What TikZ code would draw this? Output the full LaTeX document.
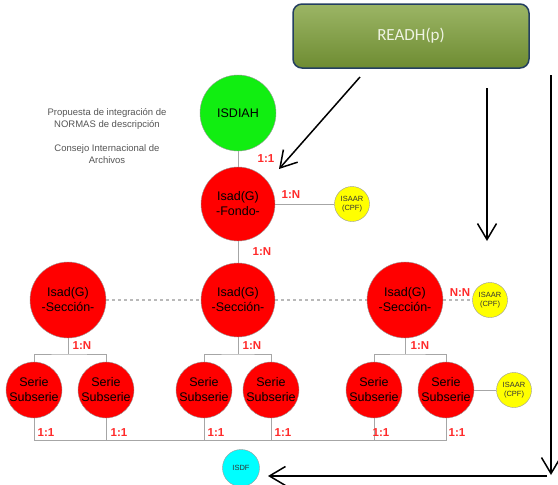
\documentclass[tikz,border=0pt]{standalone}
\usepackage{fontspec}
\setmainfont{Liberation Sans}
\newfontfamily\calibri{Carlito}
\usetikzlibrary{arrows.meta}
\definecolor{verdecaja}{HTML}{8AA84A}
\definecolor{verdeosc}{HTML}{6E8C32}
\definecolor{bordecaja}{HTML}{243F60}
\definecolor{textocaja}{HTML}{EEF3E2}
\definecolor{rojorel}{HTML}{FF2A2A}
\definecolor{grisnota}{HTML}{555555}
\definecolor{celeste}{HTML}{00FFFF}
\definecolor{amarillo}{HTML}{FFFF00}
\definecolor{verdeisd}{HTML}{11EE11}

\begin{document}
\begin{tikzpicture}[x=1pt,y=-1pt,
  nivel/.style={circle,draw=gray!80,fill=red,inner sep=0pt,minimum size=74pt,align=center,font=\fontsize{12.5}{15}\selectfont},
  serie/.style={circle,draw=gray!80,fill=red,inner sep=0pt,minimum size=56pt,align=center,font=\fontsize{12.5}{15}\selectfont},
  isaar/.style={circle,draw=gray!80,fill=amarillo,inner sep=0pt,minimum size=35pt,align=center,text=black!80,font=\fontsize{7.5}{9}\selectfont},
  rel/.style={text=rojorel,font=\bfseries\fontsize{11.5}{13}\selectfont},
  enlace/.style={draw=gray!70,line width=0.9pt},
  guion/.style={draw=gray!55,line width=1.1pt,dashed},
  flecha/.style={line width=1.5pt,-{Straight Barb[length=16pt,width=19pt]}}
]
\useasboundingbox (0,0) rectangle (558,485);

% caja superior
\node[draw=bordecaja,line width=1.5pt,rounded corners=9pt,top color=verdecaja!85!white,bottom color=verdeosc,
  minimum width=236pt,minimum height=64pt,text=textocaja,font=\calibri\fontsize{17}{20}\selectfont] (readh) at (411,36) {READH(p)};

% texto de la izquierda
\node[align=center,text=grisnota,font=\fontsize{9.5}{12}\selectfont] (nota) at (107,136)
  {Propuesta de integración de\\NORMAS de descripción\\[12pt]Consejo Internacional de\\Archivos};

% niveles
\node[nivel,fill=verdeisd,minimum size=76pt] (isdiah) at (238,113) {ISDIAH};
\node[nivel] (fondo) at (238,204) {Isad(G)\\-Fondo-};
\node[isaar] (isaarF) at (352,204) {ISAAR\\(CPF)};

\node[nivel,minimum size=76pt] (secA) at (68,300) {Isad(G)\\-Sección-};
\node[nivel] (secB) at (238,300) {Isad(G)\\-Sección-};
\node[nivel,minimum size=76pt] (secC) at (405,300) {Isad(G)\\-Sección-};
\node[isaar] (isaarT) at (490,300) {ISAAR\\(CPF)};

\node[serie] (serA1) at (34,390) {Serie\\Subserie};
\node[serie] (serA2) at (106,390) {Serie\\Subserie};
\node[serie] (serB1) at (204,390) {Serie\\Subserie};
\node[serie] (serB2) at (271,390) {Serie\\Subserie};
\node[serie] (serC1) at (374,390) {Serie\\Subserie};
\node[serie] (serC2) at (446,390) {Serie\\Subserie};
\node[isaar] (isaarS) at (514,390) {ISAAR\\(CPF)};

\node[circle,draw=gray!80,fill=celeste,inner sep=0pt,minimum size=37pt,text=black!80,font=\fontsize{7.5}{9}\selectfont] (isdf) at (241,468) {ISDF};

% enlaces
\draw[enlace] (isdiah) -- (fondo);
\draw[enlace] (fondo) -- (isaarF);
\draw[enlace] (fondo) -- (secB);
\draw[guion] (secA) -- (secB);
\draw[guion] (secB) -- (secC);
\draw[guion] (secC) -- (isaarT);
\draw[enlace] (serC2) -- (isaarS);

\coordinate (bA) at (68,354);
\coordinate (bB) at (238,354);
\coordinate (bC) at (405,354);
\draw[enlace] (secA) -- (bA);
\draw[enlace] (secB) -- (bB);
\draw[enlace] (secC) -- (bC);
\draw[enlace] (serA1.north) |- (bA) -| (serA2.north);
\draw[enlace] (serB1.north) |- (bB) -| (serB2.north);
\draw[enlace] (serC1.north) |- (bC) -| (serC2.north);

\coordinate (base) at (0,440);
\draw[enlace] (serA1.south) -- (serA1.south |- base) -- (serC2.south |- base) -- (serC2.south);
\draw[enlace] (serA2.south) -- (serA2.south |- base);
\draw[enlace] (serB1.south) -- (serB1.south |- base);
\draw[enlace] (serB2.south) -- (serB2.south |- base);
\draw[enlace] (serC1.south) -- (serC1.south |- base);

% cardinalidades
\node[rel] (r1) at (266,159) {1:1};
\node[rel] (r2) at (291,195) {1:N};
\node[rel] (r3) at (262,252) {1:N};
\node[rel] (r4) at (460,293) {N:N};
\node[rel] (r5) at (82,346) {1:N};
\node[rel] (r6) at (252,346) {1:N};
\node[rel] (r7) at (420,346) {1:N};
\node[rel] (r8) at (46,433) {1:1};
\node[rel] (r9) at (119,433) {1:1};
\node[rel] (r10) at (216,433) {1:1};
\node[rel] (r11) at (283,433) {1:1};
\node[rel] (r12) at (381,433) {1:1};
\node[rel] (r13) at (457,433) {1:1};

% flechas
\coordinate (p1) at (360,77);
\coordinate (p2) at (279,169);
\coordinate (p3) at (487,88);
\coordinate (p4) at (487,241);
\coordinate (p5) at (551,75);
\coordinate (p6) at (551,475);
\coordinate (p7) at (547,476);
\coordinate (p8) at (268,476);
\draw[flecha] (p1) -- (p2);
\draw[flecha] (p3) -- (p4);
\draw[flecha] (p5) -- (p6);
\draw[flecha] (p7) -- (p8);
\end{tikzpicture}
\end{document}
